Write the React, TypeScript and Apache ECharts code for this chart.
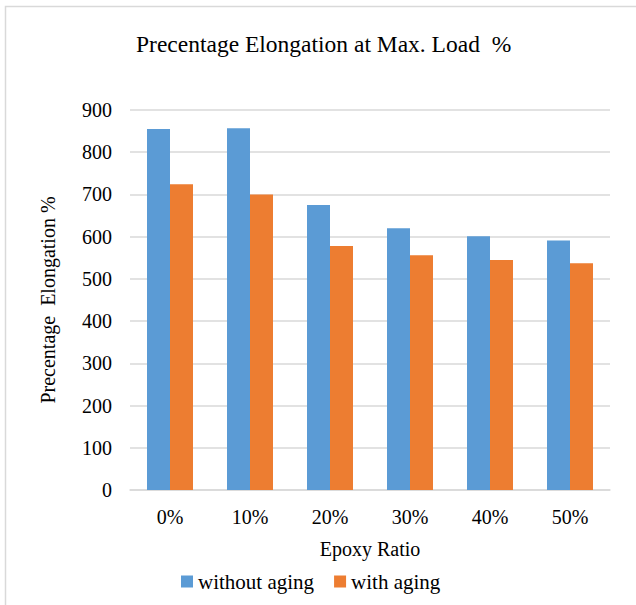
import React, { useEffect, useRef } from "react";
import * as echarts from "echarts";

const categories = ["0%", "10%", "20%", "30%", "40%", "50%"];
const withoutAging = [855, 857, 675, 620, 601, 591];
const withAging = [724, 700, 578, 556, 545, 537];
const seriesNames = ["without aging", "with aging"];

const FONT = "Liberation Serif, Times New Roman, serif";

const txt = (size: number) => ({
  fontFamily: FONT,
  fontSize: size,
  fontWeight: "normal" as const,
  fontStyle: "normal" as const,
  color: "#000",
});

export default function App() {
  const ref = useRef<HTMLDivElement>(null);
  useEffect(() => {
    if (!ref.current) return;
    const chart = echarts.init(ref.current, undefined, { renderer: "svg" });
    chart.setOption({
      animation: false,
      backgroundColor: "#ffffff",
      textStyle: txt(20),
      title: {
        text: "Precentage Elongation at Max. Load  %",
        left: 131,
        top: 27,
        textStyle: txt(23.5),
      },
      graphic: [
        {
          type: "rect",
          shape: { x: 5.5, y: 6.5, width: 700, height: 700 },
          style: { fill: "none", stroke: "#d9d9d9", lineWidth: 1.5 },
          silent: true,
        },
      ],
      legend: {
        bottom: 8,
        left: 176,
        itemWidth: 12,
        itemHeight: 12,
        itemGap: 20,
        icon: "rect",
        textStyle: txt(21),
        data: seriesNames,
      },
      grid: { left: 130, right: 26, top: 110, bottom: 115, containLabel: false },
      xAxis: {
        type: "category",
        data: categories,
        name: "Epoxy Ratio",
        nameLocation: "middle",
        nameGap: 49,
        nameTextStyle: txt(20),
        axisLine: { lineStyle: { color: "#d9d9d9", width: 1.5 } },
        axisTick: { show: false },
        axisLabel: { ...txt(20), margin: 17 },
      },
      yAxis: {
        type: "value",
        min: 0,
        max: 900,
        interval: 100,
        name: "Precentage  Elongation %",
        nameLocation: "middle",
        nameGap: 72,
        nameTextStyle: txt(20),
        axisLine: { show: false },
        axisTick: { show: false },
        axisLabel: { ...txt(20), margin: 18 },
        splitLine: { lineStyle: { color: "#d9d9d9", width: 1.5 } },
      },
      series: [
        {
          name: seriesNames[0],
          type: "bar",
          data: withoutAging,
          barWidth: 23,
          barGap: "0%",
          itemStyle: { color: "#5b9bd5" },
        },
        {
          name: seriesNames[1],
          type: "bar",
          data: withAging,
          barWidth: 23,
          barGap: "0%",
          itemStyle: { color: "#ed7d31" },
        },
      ],
    });
    return () => chart.dispose();
  }, []);
  return (
    <div
      ref={ref}
      style={{ position: "fixed", left: 0, top: 0, width: 636, height: 605 }}
    />
  );
}
